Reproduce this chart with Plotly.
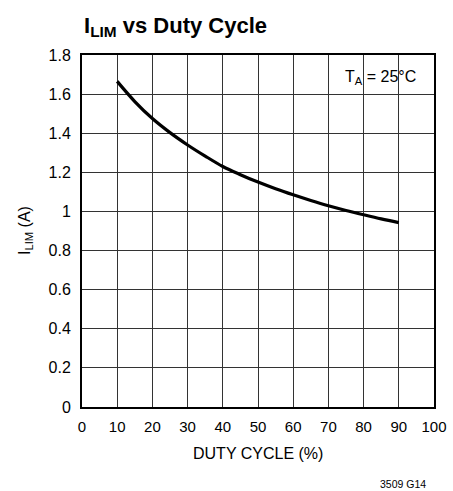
import plotly.graph_objects as go

duty_cycle = [10, 15, 20, 25, 30, 35, 40, 45, 50, 55, 60, 65, 70, 75, 80, 85, 90]
i_lim = [1.665, 1.562, 1.475, 1.403, 1.34, 1.283, 1.23, 1.188, 1.15, 1.116,
         1.085, 1.056, 1.029, 1.005, 0.983, 0.962, 0.943]

x_ticks = [0, 10, 20, 30, 40, 50, 60, 70, 80, 90, 100]
y_ticks = [0, 0.2, 0.4, 0.6, 0.8, 1.0, 1.2, 1.4, 1.6, 1.8]
y_tick_text = ["0", "0.2", "0.4", "0.6", "0.8", "1", "1.2", "1.4", "1.6", "1.8"]

FONT = "Liberation Sans Narrow, Arial Narrow, Liberation Sans, Arial, sans-serif"

fig = go.Figure()
fig.add_trace(go.Scatter(
    x=duty_cycle, y=i_lim, mode="lines",
    line=dict(color="black", width=3.2, shape="spline", smoothing=1.0),
    showlegend=False, hoverinfo="skip",
))

fig.update_layout(
    width=453, height=491,
    margin=dict(l=82, r=19, t=55, b=84),
    paper_bgcolor="white", plot_bgcolor="white",
    font=dict(family=FONT, color="black", size=16),
    title=dict(
        text="<b>I<sub>LIM</sub> vs Duty Cycle</b>",
        x=84 / 453, xanchor="left", y=1 - 25 / 491, yanchor="middle",
        font=dict(family=FONT, size=22, color="black"),
    ),
    xaxis=dict(
        range=[0, 100], tickvals=x_ticks, ticks="", showgrid=True,
        gridcolor="#333", gridwidth=1, zeroline=False,
        showline=True, linecolor="black", linewidth=2, mirror=True,
        tickfont=dict(size=15), automargin=False, ticklabelstandoff=5,
    ),
    yaxis=dict(
        range=[0, 1.8], tickvals=y_ticks, ticktext=y_tick_text, ticks="",
        showgrid=True, gridcolor="#333", gridwidth=1, zeroline=False,
        showline=True, linecolor="black", linewidth=2, mirror=True,
        tickfont=dict(size=16), automargin=False, ticklabelstandoff=6,
    ),
    annotations=[
        dict(text="DUTY CYCLE (%)", xref="paper", yref="paper",
             x=0.5, y=(407 - 453) / 352, xanchor="center", yanchor="middle",
             showarrow=False, font=dict(size=16)),
        dict(text="I<sub>LIM</sub> (A)", xref="paper", yref="paper",
             x=(25 - 82) / 352, y=0.5, xanchor="center", yanchor="middle",
             textangle=-90, showarrow=False, font=dict(size=16)),
        dict(text="T<sub>A</sub> = 25°C", xref="paper", yref="paper",
             x=(418 - 82) / 352, y=(407 - 78) / 352, xanchor="right", yanchor="middle",
             showarrow=False, font=dict(size=16)),
        dict(text="3509 G14", xref="paper", yref="paper",
             x=(428 - 82) / 352, y=(407 - 484) / 352, xanchor="right", yanchor="middle",
             showarrow=False, font=dict(size=10.5)),
    ],
)

fig.write_html(
    "out.html",
    config={"displayModeBar": False, "staticPlot": True},
    post_script="document.body.style.margin='0';document.body.style.overflow='hidden';",
)
